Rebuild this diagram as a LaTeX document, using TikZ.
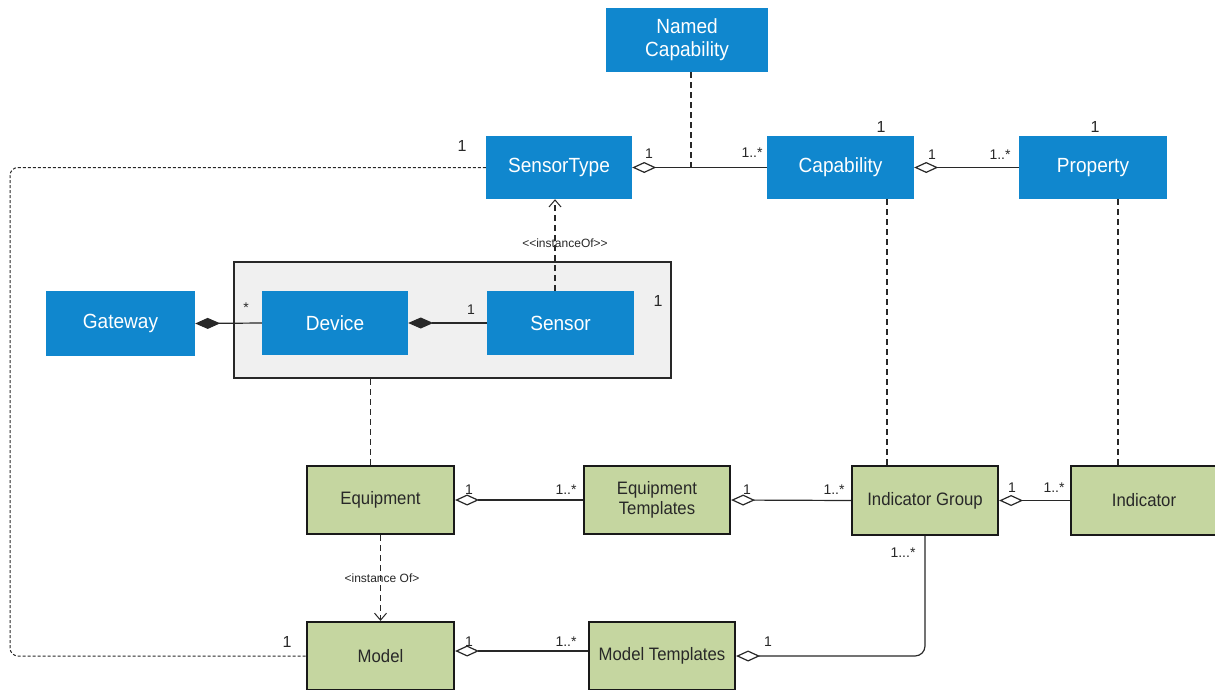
\documentclass[tikz,border=0pt]{standalone}
\usepackage{fontspec}
\newfontfamily\narrowsans{Liberation Sans}[FakeStretch=0.93]
\newfontfamily\labelsans{Liberation Sans}
\usetikzlibrary{arrows.meta}
\definecolor{capblue}{RGB}{16,135,206}
\definecolor{olive}{RGB}{197,214,160}
\definecolor{panel}{RGB}{240,240,240}
\definecolor{ink}{RGB}{40,40,40}

\begin{document}
\begin{tikzpicture}[x=1pt,y=-1pt,
  bluebox/.style={fill=capblue, draw=none, text=white, align=center, inner sep=0pt,
    font=\narrowsans\fontsize{20.5}{23}\selectfont},
  greenbox/.style={fill=olive, draw=black!90, line width=2.2pt, text=ink, align=center, inner sep=0pt,
    font=\narrowsans\fontsize{18}{20.5}\selectfont},
  mult/.style={font=\labelsans\fontsize{14}{16}\selectfont, text=ink, inner sep=0pt},
  bigmult/.style={font=\labelsans\fontsize{16}{18}\selectfont, text=ink, inner sep=0pt},
  stereo/.style={font=\labelsans\fontsize{12}{14}\selectfont, text=ink, inner sep=0pt},
  assoc/.style={draw=ink, line width=1.2pt},
  agg/.style={assoc, {Diamond[open, length=24pt, width=11pt, line width=1.2pt, fill=white]}-},
  comp/.style={assoc, {Diamond[length=25pt, width=11pt]}-},
  dep/.style={draw=ink, line width=1.2pt, dash pattern=on 6pt off 4pt},
  link/.style={draw=ink, line width=1pt, dash pattern=on 3pt off 2pt},
  inst/.style={dep, -{Straight Barb[length=7pt, width=12pt, line width=1pt]}}
]
\useasboundingbox (0,0) rectangle (1215,689);
\fill[white] (0,0) rectangle (1215,689);
\clip (0,0) rectangle (1215,689);

% device container
\node[draw=ink, line width=2.2pt, fill=panel, minimum width=437pt, minimum height=116pt, inner sep=0pt]
  (container) at (452.5,320) {};

% capability side
\node[bluebox, minimum width=162pt, minimum height=64pt] (namedcap) at (687,40) {Named\\Capability};
\node[bluebox, minimum width=146pt, minimum height=63pt] (sensortype) at (559,167.5) {SensorType};
\node[bluebox, minimum width=147pt, minimum height=63pt] (capability) at (840.5,167.5) {Capability};
\node[bluebox, minimum width=148pt, minimum height=63pt] (property) at (1093,167.5) {Property};

% devices
\node[bluebox, minimum width=149pt, minimum height=65pt] (gateway) at (120.5,323.5) {Gateway};
\node[bluebox, minimum width=146pt, minimum height=64pt] (device) at (335,323) {Device};
\node[bluebox, minimum width=147pt, minimum height=64pt] (sensor) at (560.5,323) {Sensor};

% asset side
\node[greenbox, minimum width=147pt, minimum height=68pt] (equipment) at (380.5,500) {Equipment};
\node[greenbox, minimum width=146pt, minimum height=68pt] (equiptpl) at (657,500) {Equipment\\Templates};
\node[greenbox, minimum width=146pt, minimum height=69pt] (indgroup) at (925,500.5) {Indicator Group};
\node[greenbox, minimum width=146pt, minimum height=69pt] (indicator) at (1144,500.5) {Indicator};
\node[greenbox, minimum width=147pt, minimum height=68pt] (model) at (380.5,656) {Model};
\node[greenbox, minimum width=146pt, minimum height=68pt] (modeltpl) at (662,656) {Model Templates};

% x positions of the vertical links
\coordinate (namedx) at (691,0);
\coordinate (capx) at (887,0);
\coordinate (propx) at (1118,0);
\coordinate (devx) at (370.5,0);
\coordinate (instx) at (555,0);
\coordinate (leftx) at (10,0);

% aggregations and compositions
\draw[agg] (sensortype.east) -- (capability.west);
\draw[agg] (capability.east) -- (property.west);
\draw[comp] (gateway.east) -- (device.west);
\draw[comp] (device.east) -- (sensor.west);
\draw[agg] (equipment.east) -- (equiptpl.west);
\draw[agg] (equiptpl.east) -- (indgroup.west);
\draw[agg] (indgroup.east) -- (indicator.west);
\draw[agg] ([yshift=5pt]model.east) -- ([yshift=5pt]modeltpl.west);
\draw[agg, rounded corners=10pt] (modeltpl.east) -| (indgroup.south);

% dashed links
\draw[dep] (namedcap.south -| namedx) -- (sensortype.east -| namedx);
\draw[dep] (capability.south -| capx) -- (indgroup.north -| capx);
\draw[dep] (property.south -| propx) -- (indicator.north -| propx);
\draw[dep] (container.south -| devx) -- (equipment.north -| devx);
\draw[link, rounded corners=8pt] (sensortype.west) -| (leftx |- model.west) -- (model.west);

% instance-of dependencies
\draw[inst] (sensor.north -| instx) -- (sensortype.south -| instx);
\node[stereo] (instlbl) at (565,243) {<<instanceOf>>};
\draw[inst] (equipment.south) -- (model.north);
\node[stereo] (instlbl2) at (382,578) {<instance Of>};

% multiplicities
\node[bigmult] (m1) at (462,146) {1};
\node[bigmult] (m2) at (881,127) {1};
\node[bigmult] (m3) at (1095,127) {1};
\node[mult] (m4) at (649,154) {1};
\node[mult] (m5) at (752,153) {1..*};
\node[mult] (m6) at (932,155) {1};
\node[mult] (m7) at (1000,155) {1..*};
\node[mult] (m8) at (246,308) {*};
\node[mult] (m9) at (471,310) {1};
\node[bigmult] (m10) at (658,301) {1};
\node[mult] (m11) at (469,490) {1};
\node[mult] (m12) at (566,490) {1..*};
\node[mult] (m13) at (747,490) {1};
\node[mult] (m14) at (834,490) {1..*};
\node[mult] (m15) at (1012,488) {1};
\node[mult] (m16) at (1054,488) {1..*};
\node[mult] (m17) at (903,553) {1...*};
\node[bigmult] (m18) at (287,642) {1};
\node[mult] (m19) at (469,642) {1};
\node[mult] (m20) at (566,642) {1..*};
\node[mult] (m21) at (768,642) {1};
\end{tikzpicture}
\end{document}
